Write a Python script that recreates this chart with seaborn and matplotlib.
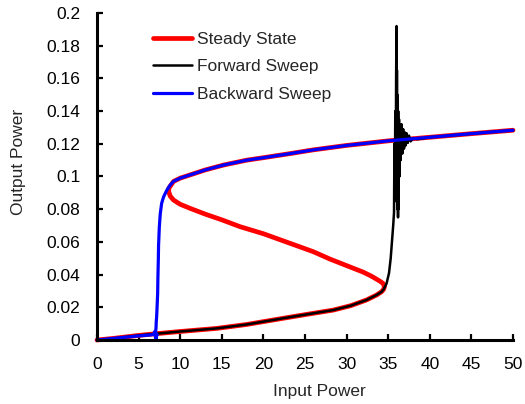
import matplotlib
matplotlib.use("Agg")
import matplotlib.pyplot as plt
import seaborn as sns
import pandas as pd

# ---- data ----
# Steady state S-curve (lower branch -> turning point -> middle branch -> nose -> upper branch)
steady_x = [0, 2, 5, 7, 10, 14.4, 18, 22.4, 25, 28.4, 30.5, 32.4, 33.6, 34.2, 34.45,
            34.55, 34.4, 34.0, 33.0, 32.0, 30.0, 28.0, 26.0, 23.0, 20.0, 17.2, 15.0,
            13.0, 11.2, 10.0, 9.2, 8.8, 8.6, 8.65, 8.9, 9.2, 10, 11.2, 13, 15.2, 18,
            20, 23.2, 26, 30, 35, 40, 45, 50]
steady_y = [0, 0.001, 0.0028, 0.0038, 0.0052, 0.0071, 0.0095, 0.0133, 0.0155, 0.0183,
            0.021, 0.0245, 0.0275, 0.0295, 0.031,
            0.0325, 0.0345, 0.036, 0.039, 0.0415, 0.0455, 0.0495, 0.054, 0.0595, 0.065,
            0.0693, 0.0735, 0.077, 0.0805, 0.083, 0.0856, 0.088, 0.091, 0.093, 0.0948,
            0.097, 0.099, 0.101, 0.104, 0.107, 0.110, 0.1115, 0.114, 0.1163, 0.119,
            0.1218, 0.124, 0.1262, 0.1283]

forward_x = [0, 2, 5, 7, 10, 14.4, 18, 22.4, 25, 28.4, 30.5, 32.4, 33.6, 34.2, 34.45,
             34.8, 35.1, 35.3, 35.45, 35.6, 35.7,
             35.75, 35.8, 35.85, 35.9, 35.95, 36.0, 36.02, 36.05, 36.08, 36.1, 36.12,
             36.15, 36.18, 36.2, 36.22, 36.3, 36.35, 36.4, 36.5, 36.6, 36.7, 36.8,
             36.9, 37.0, 37.1, 37.2, 37.35, 37.5, 37.7, 38.0, 38.5, 40, 45, 50]
forward_y = [0, 0.001, 0.0028, 0.0038, 0.0052, 0.0071, 0.0095, 0.0133, 0.0155, 0.0183,
             0.021, 0.0245, 0.0275, 0.0295, 0.031,
             0.0345, 0.041, 0.05, 0.06, 0.07, 0.078,
             0.12, 0.09, 0.14, 0.085, 0.16, 0.192, 0.095, 0.165, 0.09, 0.15, 0.08,
             0.145, 0.075, 0.14, 0.08, 0.135, 0.10, 0.13, 0.11, 0.132, 0.114, 0.129,
             0.117, 0.127, 0.119, 0.1265, 0.1205, 0.125, 0.1215, 0.1235, 0.1228,
             0.124, 0.1262, 0.1283]

backward_x = [50, 45, 40, 35, 30, 26, 23.2, 20, 18, 15.2, 13, 11.2, 10, 9.2, 8.8, 8.4,
              8.0, 7.77, 7.6, 7.49, 7.4, 7.37, 7.32, 7.29, 7.22, 7.17, 7.12, 7.1, 7.0,
              7.15, 6.9, 7.25, 6.75, 6.5, 5, 2, 0]
backward_y = [0.1283, 0.1262, 0.124, 0.1218, 0.119, 0.1163, 0.114, 0.1115, 0.110,
              0.107, 0.104, 0.101, 0.099, 0.097, 0.0948, 0.0917, 0.0875, 0.0836, 0.077,
              0.069, 0.058, 0.049, 0.038, 0.0285, 0.02, 0.0143, 0.011, 0.008, 0.002,
              0.0005, 0.005, 0.003, 0.0035, 0.0031, 0.0025, 0.001, 0]

x_ticks = [0, 5, 10, 15, 20, 25, 30, 35, 40, 45, 50]
y_ticks = [0, 0.02, 0.04, 0.06, 0.08, 0.1, 0.12, 0.14, 0.16, 0.18, 0.2]
y_tick_labels = ["0", "0.02", "0.04", "0.06", "0.08", "0.1", "0.12", "0.14", "0.16",
                 "0.18", "0.2"]

series_names = ["Steady State", "Forward Sweep", "Backward Sweep"]
series_colors = ["#FF0000", "#000000", "#0000FF"]

# ---- plotting ----
sns.set_style("white")
plt.rcParams["font.family"] = ["Liberation Sans", "DejaVu Sans"]
plt.rcParams["font.size"] = 12.5

fig = plt.figure(figsize=(5.25, 4.04), dpi=100)
ax = fig.add_axes([97 / 525, 64 / 404, 416 / 525, 327 / 404])

data = [(steady_x, steady_y), (forward_x, forward_y), (backward_x, backward_y)]
widths = [3.4, 1.8, 2.3]
for (xs, ys), name, col, lw in zip(data, series_names, series_colors, widths):
    df = pd.DataFrame({"x": xs, "y": ys})
    sns.lineplot(data=df, x="x", y="y", sort=False, estimator=None, ax=ax,
                 color=col, linewidth=lw, label=name, clip_on=False)

ax.set_xlim(0, 50)
ax.set_ylim(0, 0.2)
ax.set_xticks(x_ticks)
ax.set_xticklabels([str(t) for t in x_ticks])
ax.set_yticks(y_ticks)
ax.set_yticklabels(y_tick_labels)

for side in ["top", "right"]:
    ax.spines[side].set_visible(False)
for side in ["left", "bottom"]:
    ax.spines[side].set_linewidth(2.2)
    ax.spines[side].set_color("black")

ax.tick_params(axis="x", direction="in", length=4, width=1.6, pad=12, labelsize=12.5,
               colors="black", bottom=True)
ax.tick_params(axis="y", direction="in", length=4, width=1.6, pad=12, labelsize=12.5,
               colors="black", left=True)

ax.set_xlabel("Input Power", fontsize=12.5)
ax.set_ylabel("Output Power", fontsize=12.5)
ax.xaxis.set_label_coords(0.535, -0.134)
ax.yaxis.set_label_coords(-0.170, 0.544)

leg = ax.legend(loc="upper left", bbox_to_anchor=(0.135, 0.943), frameon=False,
                borderpad=0, borderaxespad=0, handlelength=2.25, handletextpad=0.3,
                labelspacing=0.72, fontsize=12.5)

fig.savefig("out.png", dpi=100, facecolor="white")
